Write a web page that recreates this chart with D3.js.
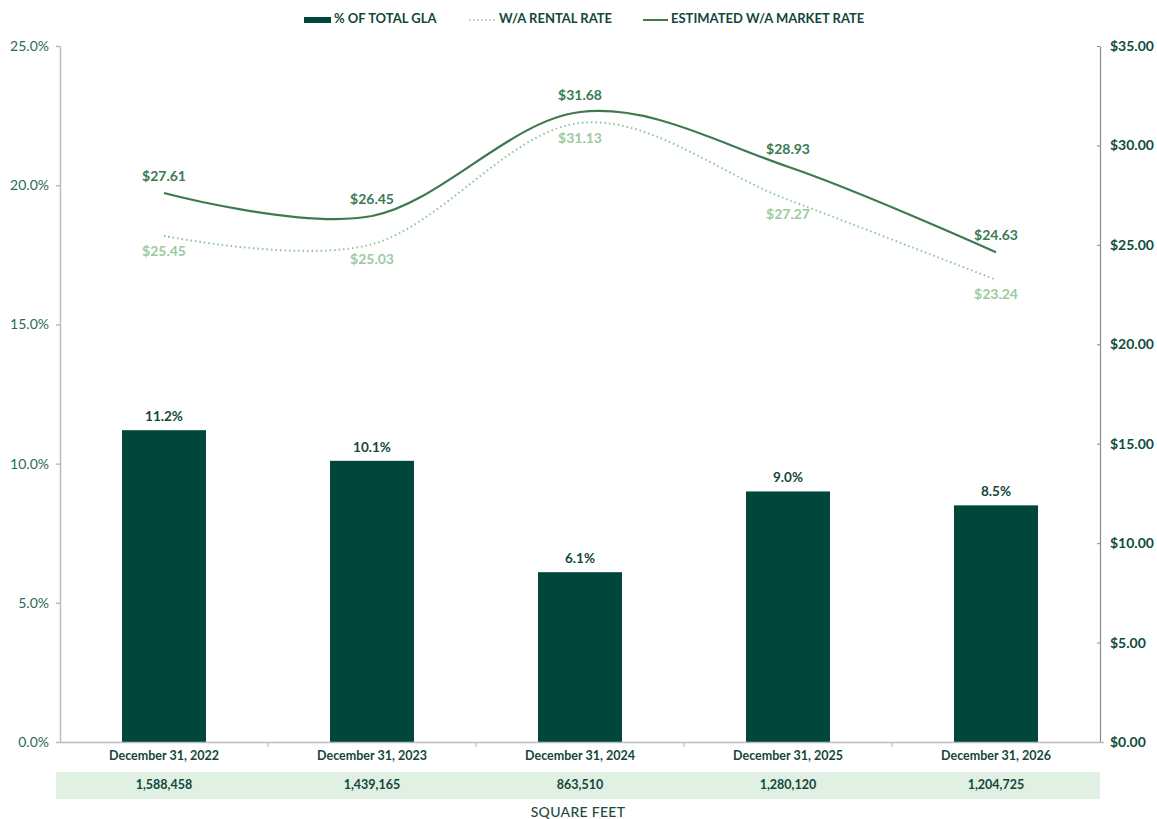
<!DOCTYPE html>
<html><head><meta charset="utf-8">
<script src="https://cdn.jsdelivr.net/npm/d3@7"></script>
<style>
body{margin:0;background:#fff;}
text{font-family:Lato,"Open Sans",sans-serif;}
</style></head>
<body><svg id="c" width="1157" height="819"></svg>
<script>
const categories = ["December 31, 2022","December 31, 2023","December 31, 2024","December 31, 2025","December 31, 2026"];
const glaPct = [11.2, 10.1, 6.1, 9.0, 8.5];
const rentalRate = [25.45, 25.03, 31.13, 27.27, 23.24];
const marketRate = [27.61, 26.45, 31.68, 28.93, 24.63];
const squareFeet = ["1,588,458","1,439,165","863,510","1,280,120","1,204,725"];
const leftTicks = [0,5,10,15,20,25];
const rightTicks = [0,5,10,15,20,25,30,35];

const svg = d3.select("#c");
const L = 60, R = 1100, T = 46, B = 742;
const x = d3.scaleBand().domain(categories).range([L,R]).paddingInner(0).paddingOuter(0);
const yL = d3.scaleLinear().domain([0,25]).range([B,T]);
const yR = d3.scaleLinear().domain([0,35]).range([B,T]);
const cx = c => x(c) + x.bandwidth()/2;

const dark = "#00463a", mid = "#3d7a50", light = "#8cc49a", lblLight = "#9cca9f";

// left axis
const gL = svg.append("g").attr("transform",`translate(${L},0)`)
  .call(d3.axisLeft(yL).tickValues(leftTicks).tickSize(4).tickSizeOuter(0).tickFormat(d=>d.toFixed(1)+"%"));
gL.select(".domain").attr("stroke","#bdbdbd").attr("stroke-width",1.5);
gL.selectAll(".tick line").attr("stroke","#bdbdbd").attr("stroke-width",1.5);
gL.selectAll(".tick text").attr("x",-11).attr("fill","#2b6a58").attr("font-size",14).attr("font-weight",400);

// right axis
const gR = svg.append("g").attr("transform",`translate(${R},0)`)
  .call(d3.axisRight(yR).tickValues(rightTicks).tickSize(-3).tickSizeOuter(0).tickFormat(d=>"$"+d.toFixed(2)));
gR.select(".domain").attr("stroke","#8a8a8a").attr("stroke-width",1.2);
gR.selectAll(".tick line").attr("stroke","#8a8a8a");
gR.selectAll(".tick text").attr("x",10).attr("fill","#0f4d3c").attr("font-size",14).attr("font-weight",700);

// bars
svg.append("g").selectAll("rect").data(categories).join("rect")
  .attr("x",(c)=>cx(c)-42).attr("width",84)
  .attr("y",(c,i)=>yL(glaPct[i])).attr("height",(c,i)=>B-yL(glaPct[i]))
  .attr("fill",dark);
svg.append("g").selectAll("text").data(categories).join("text")
  .attr("x",cx).attr("y",(c,i)=>yL(glaPct[i])-9)
  .attr("text-anchor","middle").attr("font-size",13.5).attr("font-weight",700).attr("fill","#13473b")
  .text((c,i)=>glaPct[i].toFixed(1)+"%");

// bottom axis
const gB = svg.append("g").attr("transform",`translate(0,${B})`)
  .call(d3.axisBottom(x).tickSize(0).tickSizeOuter(0));
gB.select(".domain").attr("stroke","#bdbdbd").attr("stroke-width",1.5).attr("d",`M${L},0.5H${R+4}`);
gB.selectAll(".tick text").attr("y",15).attr("dy","0").attr("dominant-baseline","middle")
  .attr("fill","#13473b").attr("font-size",12.5).attr("font-weight",700);
svg.append("g").selectAll("line").data(categories.slice(1)).join("line")
  .attr("x1",c=>x(c)).attr("x2",c=>x(c)).attr("y1",B).attr("y2",B+5)
  .attr("stroke","#bdbdbd").attr("stroke-width",1.2);

// lines
const lineGen = (arr)=> d3.line().x((d,i)=>cx(categories[i])).y(d=>yR(d)).curve(d3.curveCardinal.tension(0))(arr);
svg.append("path").attr("d",lineGen(rentalRate)).attr("fill","none")
  .attr("stroke",light).attr("stroke-width",2).attr("stroke-dasharray","1.5,3");
svg.append("path").attr("d",lineGen(marketRate)).attr("fill","none")
  .attr("stroke",mid).attr("stroke-width",2.2);

svg.append("g").selectAll("text").data(marketRate).join("text")
  .attr("x",(d,i)=>cx(categories[i])).attr("y",d=>yR(d)-16).attr("dominant-baseline","middle")
  .attr("text-anchor","middle").attr("font-size",14).attr("font-weight",700).attr("fill","#3a7a52")
  .text(d=>"$"+d.toFixed(2));
svg.append("g").selectAll("text").data(rentalRate).join("text")
  .attr("x",(d,i)=>cx(categories[i])).attr("y",d=>yR(d)+16).attr("dominant-baseline","middle")
  .attr("text-anchor","middle").attr("font-size",14).attr("font-weight",700).attr("fill",lblLight)
  .text(d=>"$"+d.toFixed(2));

// square feet row
svg.append("rect").attr("x",56).attr("y",772).attr("width",R-56).attr("height",27).attr("fill","#e0f0e3");
svg.append("g").selectAll("text").data(squareFeet).join("text")
  .attr("x",(d,i)=>cx(categories[i])).attr("y",786).attr("dominant-baseline","middle")
  .attr("text-anchor","middle").attr("font-size",12.5).attr("font-weight",700).attr("fill","#13473b")
  .text(d=>d);
svg.append("text").attr("x",578).attr("y",813).attr("dominant-baseline","middle")
  .attr("text-anchor","middle").attr("font-size",14).attr("font-weight",500).attr("fill","#1d4a3e")
  .attr("letter-spacing",0.3).text("SQUARE FEET");

// legend
const lg = svg.append("g");
lg.append("rect").attr("x",304).attr("y",17).attr("width",27).attr("height",6).attr("fill",dark);
lg.append("text").attr("x",334).attr("y",20).attr("dominant-baseline","middle").attr("font-size",13).attr("font-weight",700).attr("fill","#13473b").text("% OF TOTAL GLA");
lg.append("line").attr("x1",469).attr("x2",496).attr("y1",20).attr("y2",20).attr("stroke",light).attr("stroke-width",1.5).attr("stroke-dasharray","1.5,2.5");
lg.append("text").attr("x",499).attr("y",20).attr("dominant-baseline","middle").attr("font-size",13).attr("font-weight",700).attr("fill","#13473b").text("W/A RENTAL RATE");
lg.append("line").attr("x1",643).attr("x2",668).attr("y1",20).attr("y2",20).attr("stroke",mid).attr("stroke-width",2);
lg.append("text").attr("x",671).attr("y",20).attr("dominant-baseline","middle").attr("font-size",13).attr("font-weight",700).attr("fill","#13473b").text("ESTIMATED W/A MARKET RATE");
</script></body></html>
